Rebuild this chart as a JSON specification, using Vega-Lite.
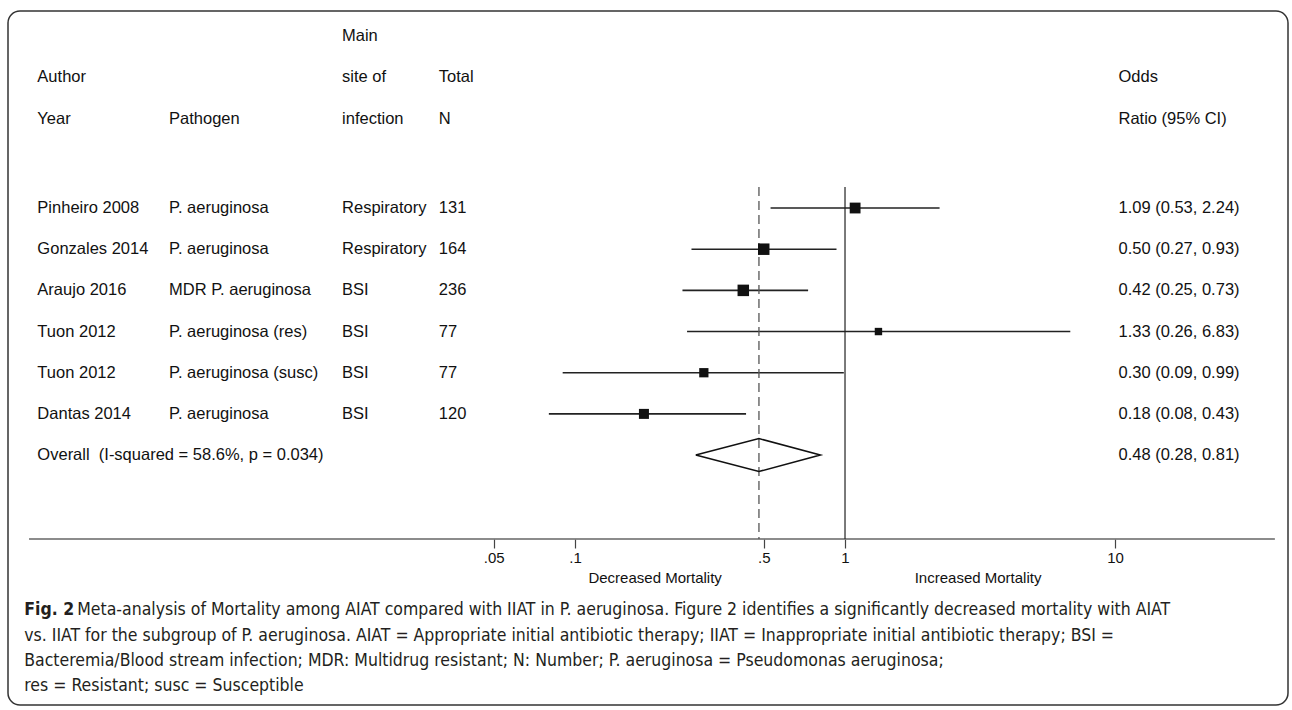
{
  "$schema": "https://vega.github.io/schema/vega-lite/v6.json",
  "width": 1280,
  "height": 694,
  "autosize": {"type": "none"},
  "padding": {"left": 8, "top": 11, "right": 4, "bottom": 5},
  "background": "white",
  "config": {
    "view": {"stroke": "#333333", "strokeWidth": 1.5, "cornerRadius": 12},
    "font": "Liberation Sans",
    "text": {"font": "Liberation Sans", "fontSize": 16.5, "baseline": "middle", "align": "left", "color": "#111111"}
  },
  "datasets": {
    "table": [
      {"type": "head", "row": -3.178, "site": "Main"},
      {"type": "head", "row": -2.18, "author": "Author", "site": "site of", "n": "Total", "label": "Odds"},
      {"type": "head", "row": -1.16, "author": "Year", "pathogen": "Pathogen", "site": "infection", "n": "N", "label": "Ratio (95% CI)"},
      {"type": "study", "row": 1, "author": "Pinheiro 2008", "pathogen": "P. aeruginosa", "site": "Respiratory", "n": "131", "or": 1.09, "lo": 0.53, "hi": 2.24, "weight": 18.8, "label": "1.09 (0.53, 2.24)"},
      {"type": "study", "row": 2, "author": "Gonzales 2014", "pathogen": "P. aeruginosa", "site": "Respiratory", "n": "164", "or": 0.50, "lo": 0.27, "hi": 0.93, "weight": 21.2, "label": "0.50 (0.27, 0.93)"},
      {"type": "study", "row": 3, "author": "Araujo 2016", "pathogen": "MDR P. aeruginosa", "site": "BSI", "n": "236", "or": 0.42, "lo": 0.25, "hi": 0.73, "weight": 21.2, "label": "0.42 (0.25, 0.73)"},
      {"type": "study", "row": 4, "author": "Tuon 2012", "pathogen": "P. aeruginosa (res)", "site": "BSI", "n": "77", "or": 1.33, "lo": 0.26, "hi": 6.83, "weight": 8.8, "label": "1.33 (0.26, 6.83)"},
      {"type": "study", "row": 5, "author": "Tuon 2012", "pathogen": "P. aeruginosa (susc)", "site": "BSI", "n": "77", "or": 0.30, "lo": 0.09, "hi": 0.99, "weight": 13.8, "label": "0.30 (0.09, 0.99)"},
      {"type": "study", "row": 6, "author": "Dantas 2014", "pathogen": "P. aeruginosa", "site": "BSI", "n": "120", "or": 0.18, "lo": 0.08, "hi": 0.43, "weight": 16.1, "label": "0.18 (0.08, 0.43)"},
      {"type": "overall", "row": 7, "author": "Overall\u00a0\u00a0(I-squared = 58.6%, p = 0.034)", "or": 0.48, "lo": 0.28, "hi": 0.81, "label": "0.48 (0.28, 0.81)"}
    ],
    "diamond": [
      {"i": 0, "x": 0.28, "y": 7},
      {"i": 1, "x": 0.48, "y": 6.6},
      {"i": 2, "x": 0.81, "y": 7},
      {"i": 3, "x": 0.48, "y": 7.4},
      {"i": 4, "x": 0.28, "y": 7}
    ],
    "sides": [
      {"x": 0.198, "row": 9.99, "text": "Decreased Mortality"},
      {"x": 3.11, "row": 9.99, "text": "Increased Mortality"}
    ],
    "caption": [
      {"line": 1, "row": 10.765, "text": "Meta-analysis of Mortality among AIAT compared with IIAT in P. aeruginosa. Figure 2 identifies a significantly decreased mortality with AIAT"},
      {"line": 2, "row": 11.4, "text": "vs. IIAT for the subgroup of P. aeruginosa. AIAT = Appropriate initial antibiotic therapy; IIAT = Inappropriate initial antibiotic therapy; BSI ="},
      {"line": 3, "row": 12.0, "text": "Bacteremia/Blood stream infection; MDR: Multidrug resistant; N: Number; P. aeruginosa = Pseudomonas aeruginosa;"},
      {"line": 4, "row": 12.61, "text": "res = Resistant; susc = Susceptible"}
    ]
  },
  "layer": [
    {
      "data": {"name": "table"},
      "transform": [{"filter": "datum.type == 'study'"}],
      "mark": {"type": "rule", "color": "#222222", "strokeWidth": 1.6},
      "encoding": {
        "x": {
          "field": "lo", "type": "quantitative",
          "scale": {"type": "log", "domain": [0.000794, 43.73], "nice": false, "zero": false},
          "axis": {
            "values": [0.05, 0.1, 0.5, 1, 10],
            "labelExpr": "datum.value < 1 ? replace(toString(datum.value), '0.', '.') : toString(datum.value)",
            "offset": -166, "domain": false, "grid": false, "title": null,
            "tickSize": 9, "tickColor": "#444444", "tickWidth": 1.2,
            "labelFontSize": 15, "labelColor": "#111111", "labelFont": "Liberation Sans",
            "labelPadding": 2, "labelFlush": false, "labelOverlap": false
          }
        },
        "x2": {"field": "hi"},
        "y": {
          "field": "row", "type": "quantitative",
          "scale": {"domain": [-3.785, 13.07], "reverse": true, "nice": false, "zero": false},
          "axis": null
        }
      }
    },
    {
      "data": {"values": [{}]},
      "mark": {"type": "rule", "color": "#666666", "strokeWidth": 1.5},
      "encoding": {
        "x": {"datum": 0.00095, "type": "quantitative"},
        "x2": {"datum": 39.1},
        "y": {"datum": 9.04, "type": "quantitative"}
      }
    },
    {
      "data": {"values": [{}]},
      "mark": {"type": "rule", "color": "#222222", "strokeWidth": 1.2},
      "encoding": {
        "x": {"datum": 1, "type": "quantitative"},
        "y": {"datum": 0.49, "type": "quantitative"},
        "y2": {"datum": 9.04}
      }
    },
    {
      "data": {"name": "table"},
      "transform": [{"filter": "datum.type == 'overall'"}],
      "mark": {"type": "rule", "color": "#555555", "strokeWidth": 1.3, "strokeDash": [9, 5]},
      "encoding": {
        "x": {"field": "or", "type": "quantitative"},
        "y": {"datum": 0.49, "type": "quantitative"},
        "y2": {"datum": 9.04}
      }
    },
    {
      "data": {"name": "table"},
      "transform": [{"filter": "datum.type == 'study'"}],
      "mark": {"type": "point", "shape": "square", "filled": true, "color": "#111111", "opacity": 1},
      "encoding": {
        "x": {"field": "or", "type": "quantitative"},
        "y": {"field": "row", "type": "quantitative"},
        "size": {"field": "weight", "type": "quantitative", "scale": {"domain": [0, 21.2], "range": [0, 132], "zero": true}, "legend": null}
      }
    },
    {
      "data": {"name": "diamond"},
      "mark": {"type": "line", "color": "#111111", "strokeWidth": 1.6},
      "encoding": {
        "x": {"field": "x", "type": "quantitative"},
        "y": {"field": "y", "type": "quantitative"},
        "order": {"field": "i", "type": "quantitative"}
      }
    },
    {
      "data": {"name": "table"},
      "transform": [{"filter": "isValid(datum.author)"}],
      "mark": {"type": "text"},
      "encoding": {
        "x": {"datum": 0.00102, "type": "quantitative"},
        "y": {"field": "row", "type": "quantitative"},
        "text": {"field": "author"}
      }
    },
    {
      "data": {"name": "table"},
      "transform": [{"filter": "isValid(datum.pathogen)"}],
      "mark": {"type": "text"},
      "encoding": {
        "x": {"datum": 0.003135, "type": "quantitative"},
        "y": {"field": "row", "type": "quantitative"},
        "text": {"field": "pathogen"}
      }
    },
    {
      "data": {"name": "table"},
      "transform": [{"filter": "isValid(datum.site)"}],
      "mark": {"type": "text"},
      "encoding": {
        "x": {"datum": 0.01371, "type": "quantitative"},
        "y": {"field": "row", "type": "quantitative"},
        "text": {"field": "site"}
      }
    },
    {
      "data": {"name": "table"},
      "transform": [{"filter": "isValid(datum.n)"}],
      "mark": {"type": "text"},
      "encoding": {
        "x": {"datum": 0.0313, "type": "quantitative"},
        "y": {"field": "row", "type": "quantitative"},
        "text": {"field": "n"}
      }
    },
    {
      "data": {"name": "table"},
      "transform": [{"filter": "isValid(datum.label)"}],
      "mark": {"type": "text"},
      "encoding": {
        "x": {"datum": 10.3, "type": "quantitative"},
        "y": {"field": "row", "type": "quantitative"},
        "text": {"field": "label"}
      }
    },
    {
      "data": {"name": "sides"},
      "mark": {"type": "text", "align": "center", "fontSize": 15},
      "encoding": {
        "x": {"field": "x", "type": "quantitative"},
        "y": {"field": "row", "type": "quantitative"},
        "text": {"field": "text"}
      }
    },
    {
      "data": {"name": "caption"},
      "transform": [{"filter": "datum.line == 1"}],
      "mark": {"type": "text", "font": "DejaVu Sans Condensed, sans-serif", "fontSize": 17.5, "fontWeight": "bold", "color": "#231f20"},
      "encoding": {
        "x": {"datum": 0.000912, "type": "quantitative"},
        "y": {"field": "row", "type": "quantitative"},
        "text": {"value": "Fig. 2"}
      }
    },
    {
      "data": {"name": "caption"},
      "transform": [{"filter": "datum.line == 1"}],
      "mark": {"type": "text", "font": "DejaVu Sans Condensed, sans-serif", "fontSize": 17.5, "color": "#231f20", "dx": 53},
      "encoding": {
        "x": {"datum": 0.000912, "type": "quantitative"},
        "y": {"field": "row", "type": "quantitative"},
        "text": {"field": "text"}
      }
    },
    {
      "data": {"name": "caption"},
      "transform": [{"filter": "datum.line > 1"}],
      "mark": {"type": "text", "font": "DejaVu Sans Condensed, sans-serif", "fontSize": 17.5, "color": "#231f20"},
      "encoding": {
        "x": {"datum": 0.000912, "type": "quantitative"},
        "y": {"field": "row", "type": "quantitative"},
        "text": {"field": "text"}
      }
    }
  ]
}
